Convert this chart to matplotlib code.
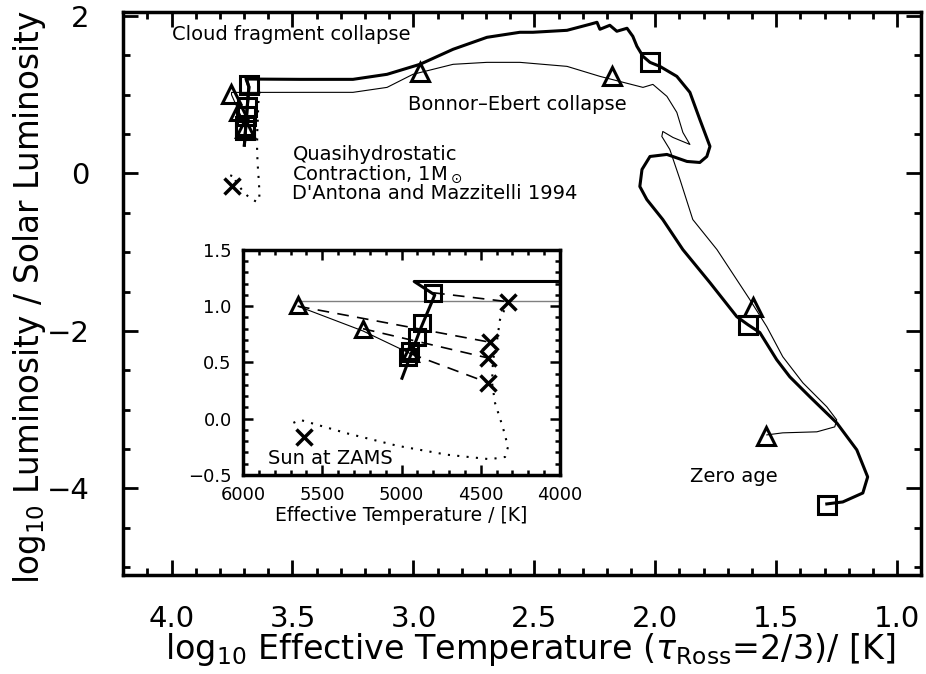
import matplotlib.pyplot as plt
import numpy as np
from matplotlib.ticker import MultipleLocator

plt.rcParams['font.family'] = ['DejaVu Sans']
plt.rcParams['axes.unicode_minus'] = True

# main diagram: log10 Teff, log10 L
cloud_logt = [3.699, 3.688, 3.680, 3.692, 3.469, 3.250, 3.109, 2.973, 2.836, 2.696, 2.560,
              2.506, 2.365, 2.270, 2.241, 2.229, 2.188, 2.159, 2.117, 2.093, 2.076, 2.051,
              2.022, 1.981, 1.911, 1.857, 1.816, 1.774, 1.787, 1.816, 1.869, 1.952, 2.022,
              2.055, 2.064, 2.035, 1.969, 1.886, 1.774, 1.663, 1.617, 1.568, 1.498, 1.444,
              1.361, 1.250, 1.167, 1.122, 1.142, 1.225, 1.291]
cloud_logl = [0.36, 0.80, 1.10, 1.20, 1.196, 1.196, 1.26, 1.387, 1.578, 1.730, 1.794,
              1.794, 1.819, 1.896, 1.921, 1.832, 1.883, 1.807, 1.845, 1.743, 1.616, 1.489,
              1.412, 1.361, 1.234, 1.031, 0.687, 0.344, 0.216, 0.140, 0.153, 0.242, 0.216,
              0.051, -0.165, -0.331, -0.585, -0.967, -1.387, -1.819, -1.921, -2.02, -2.366, -2.583,
              -2.837, -3.168, -3.511, -3.855, -4.059, -4.173, -4.198]

be_logt = [3.694, 3.752, 3.752, 3.40, 3.250, 3.109, 3.002, 2.836, 2.696, 2.560, 2.365,
           2.229, 2.051, 2.010, 1.952, 1.911, 1.886, 1.857, 1.927, 1.969, 1.973, 1.940,
           1.898, 1.845, 1.745, 1.609, 1.539, 1.473, 1.390, 1.291, 1.250, 1.258, 1.332,
           1.473, 1.539]
be_logl = [0.60, 1.00, 1.03, 1.031, 1.031, 1.094, 1.26, 1.387, 1.412, 1.412, 1.361,
           1.234, 1.094, 1.132, 0.980, 0.776, 0.522, 0.369, 0.458, 0.534, 0.471, 0.305,
           -0.076, -0.585, -0.967, -1.603, -1.947, -2.328, -2.659, -2.964, -3.130, -3.219, -3.282,
           -3.295, -3.321]

tri_logt = [2.973, 2.179, 1.597, 1.543]
tri_logl = [1.285, 1.234, -1.69, -3.33]
sq_logt = [2.022, 1.617, 1.291]
sq_logl = [1.412, -1.921, -4.21]

# inset: Teff in K, log10 L
in_tri_t = [5653, 5243, 4946]
in_tri_l = [1.01, 0.80, 0.58]
in_sq_t = [4801, 4871, 4902, 4946, 4960]
in_sq_l = [1.12, 0.85, 0.73, 0.60, 0.55]
in_x_t = [4328, 4442, 4454, 4454]
in_x_l = [1.04, 0.68, 0.54, 0.32]
sun_t = [5615]
sun_l = [-0.165]

dm_t = [4328, 4379, 4397, 4423, 4429, 4410, 4360, 4328, 4347, 4442, 4713, 5028, 5344, 5640, 5703]
dm_l = [1.04, 0.88, 0.70, 0.52, 0.32, 0.14, -0.08, -0.25, -0.34, -0.36, -0.32, -0.24, -0.13, -0.01, -0.05]

in_thick_t = [4997, 4880, 4790, 4920, 3000]
in_thick_l = [0.36, 0.80, 1.10, 1.22, 1.22]
in_thin_t = [4946, 5243, 5653]
in_thin_l = [0.58, 0.78, 1.00]
in_gray_t = [5653, 3000]
in_gray_l = [1.05, 1.05]

# isochrone dashes: start point -> end point
iso_t0 = [4801, 5653, 5243, 4946]
iso_l0 = [1.12, 1.00, 0.80, 0.58]
iso_t1 = [4328, 4442, 4454, 4454]
iso_l1 = [1.04, 0.68, 0.54, 0.32]

fig = plt.figure(figsize=(9.26, 6.74), dpi=100)
ax = fig.add_axes([0.133, 0.147, 0.862, 0.835])

ax.plot(cloud_logt, cloud_logl, 'k-', lw=2.2)
ax.plot(be_logt, be_logl, 'k-', lw=0.8)
ax.plot(np.log10(dm_t), dm_l, 'k-', lw=1.5, dashes=(1, 3.5))
ax.plot(np.log10(in_thick_t[:4]), in_thick_l[:4], 'k-', lw=2.2)

mk = dict(ls='none', mfc='none', mec='k', mew=2.2, ms=13)
ax.plot(tri_logt, tri_logl, marker='^', **mk)
ax.plot(sq_logt, sq_logl, marker='s', **mk)
ax.plot(np.log10(in_tri_t), in_tri_l, marker='^', **mk)
ax.plot(np.log10(in_sq_t), in_sq_l, marker='s', **mk)
ax.plot(np.log10(sun_t), sun_l, marker='x', ls='none', mec='k', mew=2.5, ms=11)

ax.set_xlim(4.2, 0.9)
ax.set_ylim(-5.1, 2.05)
ax.xaxis.set_major_locator(MultipleLocator(0.5))
ax.xaxis.set_minor_locator(MultipleLocator(0.1))
ax.yaxis.set_major_locator(MultipleLocator(2))
ax.yaxis.set_minor_locator(MultipleLocator(0.5))
ax.xaxis.set_major_formatter(lambda v, p: '%.1f' % v)
ax.tick_params(which='both', direction='in', top=True, right=True, width=2, labelsize=21)
ax.tick_params(which='major', length=11)
ax.tick_params(which='minor', length=5)
ax.tick_params(axis='x', pad=22)
ax.tick_params(axis='y', pad=24)
for s in ax.spines.values():
    s.set_linewidth(2.5)
ax.set_xlabel(r'log$_{10}$ Effective Temperature ($\tau_{\rm Ross}$=2/3)/ [K]',
              fontsize=24, va='center')
ax.set_ylabel('log$_{10}$ Luminosity / Solar Luminosity', fontsize=23.5, va='center')
ax.xaxis.set_label_coords(0.51, -0.133)
ax.yaxis.set_label_coords(-0.117, 0.494)

ax.text(4.0, 1.77, 'Cloud fragment collapse', fontsize=14, va='center')
ax.text(3.022, 0.88, 'Bonnor\u2013Ebert collapse', fontsize=14, va='center')
ax.text(3.5, 0.24, 'Quasihydrostatic', fontsize=14, va='center')
ax.text(3.5, -0.01, r'Contraction, 1M$_\odot$', fontsize=14, va='center')
ax.text(3.5, -0.25, "D'Antona and Mazzitelli 1994", fontsize=14, va='center')
ax.text(1.857, -3.85, 'Zero age', fontsize=14, va='center')

# inset
ins = fig.add_axes([0.2624, 0.2953, 0.3424, 0.3338])
ins.plot(in_thick_t, in_thick_l, 'k-', lw=2.2)
ins.plot(in_thin_t, in_thin_l, 'k-', lw=0.8)
ins.plot(in_gray_t, in_gray_l, '-', color='0.5', lw=1.0)
ins.plot(dm_t, dm_l, 'k-', lw=1.5, dashes=(1, 3.5))
for t0, l0, t1, l1 in zip(iso_t0, iso_l0, iso_t1, iso_l1):
    ins.plot([t0, t1], [l0, l1], 'k--', lw=1.2, dashes=(7, 5))
mk2 = dict(ls='none', mfc='none', mec='k', mew=2.2, ms=12)
ins.plot(in_tri_t, in_tri_l, marker='^', **mk2)
ins.plot(in_sq_t, in_sq_l, marker='s', **mk2)
ins.plot(in_x_t, in_x_l, marker='x', ls='none', mec='k', mew=2.5, ms=11)
ins.plot(sun_t, sun_l, marker='x', ls='none', mec='k', mew=2.5, ms=11)
ins.text(5842, -0.35, 'Sun at ZAMS', fontsize=14, va='center')

ins.set_xlim(6000, 4000)
ins.set_ylim(-0.5, 1.5)
ins.xaxis.set_major_locator(MultipleLocator(500))
ins.xaxis.set_minor_locator(MultipleLocator(100))
ins.yaxis.set_major_locator(MultipleLocator(0.5))
ins.yaxis.set_minor_locator(MultipleLocator(0.1))
ins.yaxis.set_major_formatter(lambda v, p: '%.1f' % v if v >= 0 else '\u2212%.1f' % -v)
ins.tick_params(which='both', direction='in', top=True, right=True, width=1.8, labelsize=13)
ins.tick_params(which='major', length=7)
ins.tick_params(which='minor', length=3.5)
ins.tick_params(axis='x', pad=8)
ins.tick_params(axis='y', pad=8)
for s in ins.spines.values():
    s.set_linewidth(2.5)
ins.set_xlabel('Effective Temperature / [K]', fontsize=13.5, va='center')
ins.xaxis.set_label_coords(0.5, -0.178)

fig.savefig('out.png', dpi=100)
